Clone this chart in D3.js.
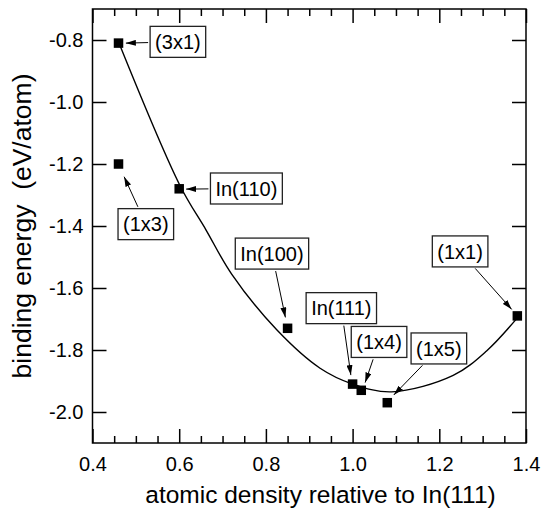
<!DOCTYPE html>
<html>
<head>
<meta charset="utf-8">
<script src="https://cdn.jsdelivr.net/npm/d3@7"></script>
<style>
  html, body { margin: 0; padding: 0; background: #fff; }
  svg { display: block; }
  text { font-family: "Liberation Sans", Arial, Helvetica, sans-serif; fill: #000; }
</style>
</head>
<body>
<svg id="chart" width="541" height="511"></svg>
<script>
// ---- data ----
const structures = ["(3x1)", "(1x3)", "In(110)", "In(100)", "In(111)", "(1x4)", "(1x5)", "(1x1)"];
const density    = [0.46, 0.46, 0.60, 0.85, 1.00, 1.02, 1.08, 1.38];
const energy     = [-0.81, -1.20, -1.28, -1.73, -1.91, -1.93, -1.97, -1.69];

// fitted curve
const fitX = [0.462, 0.602, 0.662, 0.721, 0.825, 0.925, 1.000, 1.090, 1.232, 1.309, 1.382];
const fitY = [-0.813, -1.270, -1.413, -1.555, -1.735, -1.859, -1.910, -1.935, -1.882, -1.803, -1.693];

const xMajorTicks = [0.4, 0.6, 0.8, 1.0, 1.2, 1.4];
const xMinorTicks = [0.45, 0.5, 0.55, 0.65, 0.7, 0.75, 0.85, 0.9, 0.95, 1.05, 1.1, 1.15, 1.25, 1.3, 1.35];
const yTicks = [-0.8, -1.0, -1.2, -1.4, -1.6, -1.8, -2.0];

// annotation layout (data coordinates): box centre and arrow tip
const labelBoxX = [0.597, 0.523, 0.755, 0.814, 0.974, 1.061, 1.199, 1.248];
const labelBoxY = [-0.806, -1.394, -1.279, -1.489, -1.665, -1.774, -1.795, -1.482];
const arrowTipX = [0.477, 0.473, 0.616, 0.845, 0.996, 1.029, 1.095, 1.367];
const arrowTipY = [-0.810, -1.241, -1.281, -1.695, -1.881, -1.905, -1.945, -1.669];

// ---- layout ----
const L = 92.5, R = 526, T = 9, B = 443;
const svg = d3.select("#chart");
const x = d3.scaleLinear().domain([0.4, 1.4]).range([L, R]);
const y = d3.scaleLinear().domain([-2.1, -0.7]).range([B, T]);

svg.append("defs").append("marker")
  .attr("id", "ah").attr("viewBox", "0 0 10 6")
  .attr("refX", 10).attr("refY", 3)
  .attr("markerWidth", 10).attr("markerHeight", 6)
  .attr("markerUnits", "userSpaceOnUse")
  .attr("orient", "auto")
  .append("path").attr("d", "M0,0 L10,3 L0,6 Z").attr("fill", "#000");

const fmt = d => d.toFixed(1);
const tickFont = 20;

function styleAxis(g) {
  g.select(".domain").remove();
  g.selectAll(".tick line").attr("stroke", "#000").attr("stroke-width", 1.5);
  g.selectAll(".tick text").attr("font-size", tickFont).attr("fill", "#000")
    .style("font-family", "'Liberation Sans', Arial, sans-serif");
}

// bottom
svg.append("g").attr("transform", `translate(0,${B})`)
  .call(d3.axisBottom(x).tickValues(xMajorTicks).tickFormat(fmt).tickSize(-14).tickPadding(14))
  .call(styleAxis);
svg.append("g").attr("transform", `translate(0,${B})`)
  .call(d3.axisBottom(x).tickValues(xMinorTicks).tickFormat("").tickSize(-7))
  .call(styleAxis);
// top
svg.append("g").attr("transform", `translate(0,${T})`)
  .call(d3.axisTop(x).tickValues(xMajorTicks).tickFormat("").tickSize(-14))
  .call(styleAxis);
svg.append("g").attr("transform", `translate(0,${T})`)
  .call(d3.axisTop(x).tickValues(xMinorTicks).tickFormat("").tickSize(-7))
  .call(styleAxis);
// left
svg.append("g").attr("transform", `translate(${L},0)`)
  .call(d3.axisLeft(y).tickValues(yTicks).tickFormat(fmt).tickSize(-14).tickPadding(9))
  .call(styleAxis);
// right
svg.append("g").attr("transform", `translate(${R},0)`)
  .call(d3.axisRight(y).tickValues(yTicks).tickFormat("").tickSize(-14))
  .call(styleAxis);

// frame
svg.append("rect").attr("x", L).attr("y", T).attr("width", R - L).attr("height", B - T)
  .attr("fill", "none").attr("stroke", "#000").attr("stroke-width", 1.5);

// curve
const fit = fitX.map((v, i) => [v, fitY[i]]);
svg.append("path").datum(fit)
  .attr("fill", "none").attr("stroke", "#000").attr("stroke-width", 1.4)
  .attr("d", d3.line().x(d => x(d[0])).y(d => y(d[1])).curve(d3.curveCatmullRom.alpha(0.5)));

// points
const sq = 9.5;
svg.append("g").selectAll("rect").data(structures).join("rect")
  .attr("x", (d, i) => x(density[i]) - sq / 2)
  .attr("y", (d, i) => y(energy[i]) - sq / 2)
  .attr("width", sq).attr("height", sq).attr("fill", "#000");

// labels
const ann = svg.append("g");
structures.forEach((name, i) => {
  const cx = x(labelBoxX[i]), cy = y(labelBoxY[i]);
  const g = ann.append("g");
  const t = g.append("text").attr("x", cx).attr("y", cy).attr("text-anchor", "middle")
    .attr("dy", "0.36em").attr("font-size", 20).text(name);
  const bb = t.node().getBBox();
  const padX = 5, hh = 15.5;
  const bw = bb.width + 2 * padX;
  const x0 = cx - bw / 2, y0 = cy - hh;
  g.insert("rect", "text").attr("x", x0).attr("y", y0).attr("width", bw).attr("height", 2 * hh)
    .attr("fill", "#fff").attr("stroke", "#222").attr("stroke-width", 1.3);
  // arrow from box edge to tip
  const tx = x(arrowTipX[i]), ty = y(arrowTipY[i]);
  const dx = tx - cx, dy = ty - cy;
  const tX = dx !== 0 ? (bw / 2) / Math.abs(dx) : Infinity;
  const tY = dy !== 0 ? hh / Math.abs(dy) : Infinity;
  const tt = Math.min(tX, tY);
  const sx = cx + dx * tt + (dx / Math.hypot(dx, dy)) * 2;
  const sy = cy + dy * tt + (dy / Math.hypot(dx, dy)) * 2;
  ann.append("line").attr("x1", sx).attr("y1", sy).attr("x2", tx).attr("y2", ty)
    .attr("stroke", "#000").attr("stroke-width", 1).attr("marker-end", "url(#ah)");
});

// axis titles
svg.append("text").attr("x", 320.5).attr("y", 503)
  .attr("text-anchor", "middle").attr("font-size", 24.5)
  .text("atomic density relative to In(111)");
svg.append("text").attr("transform", `translate(31,${226}) rotate(-90)`)
  .attr("text-anchor", "middle").attr("font-size", 26.5).attr("xml:space", "preserve")
  .style("white-space", "pre")
  .text("binding energy  (eV/atom)");
</script>
</body>
</html>
